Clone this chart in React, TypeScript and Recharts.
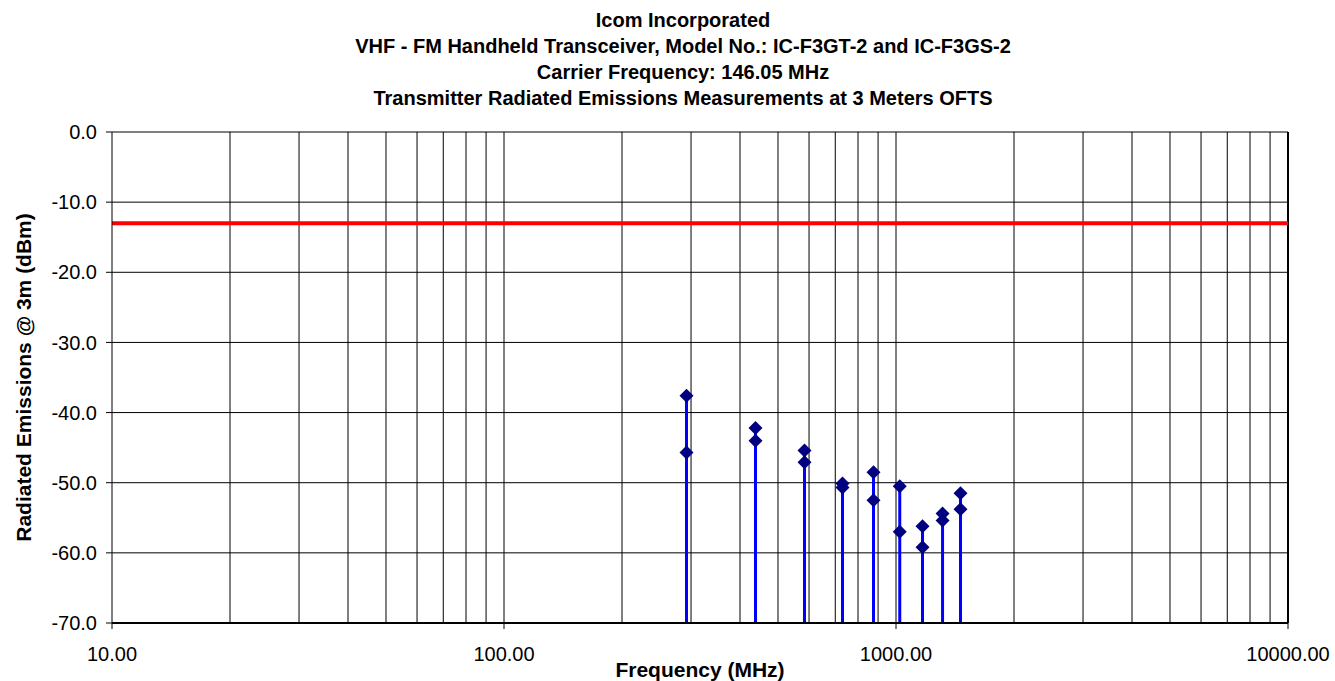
import React from 'react'
import { ScatterChart, Scatter, XAxis, YAxis, CartesianGrid, ReferenceLine } from 'recharts'

// harmonics of 146.05 MHz carrier
const harmonicFreqs = [292.1, 438.15, 584.2, 730.25, 876.3, 1022.35, 1168.4, 1314.45, 1460.5]
const emissionsA = [-37.6, -42.2, -45.4, -50.1, -48.5, -50.5, -56.2, -54.4, -51.5]
const emissionsB = [-45.7, -44.0, -47.1, -50.7, -52.5, -57.0, -59.2, -55.4, -53.8]

const limitDbm = -13
const xTicks = [10, 100, 1000, 10000]
const yTicks = [-70, -60, -50, -40, -30, -20, -10, 0]
const minorGrid = [
  20, 30, 40, 50, 60, 70, 80, 90, 100,
  200, 300, 400, 500, 600, 700, 800, 900, 1000,
  2000, 3000, 4000, 5000, 6000, 7000, 8000, 9000,
]

const titleLines = [
  'Icom Incorporated',
  'VHF - FM Handheld Transceiver, Model No.: IC-F3GT-2 and IC-F3GS-2',
  'Carrier Frequency: 146.05 MHz',
  'Transmitter Radiated Emissions Measurements at 3 Meters OFTS',
]

const points = harmonicFreqs.flatMap((f, i) => [
  { freq: f, dbm: emissionsA[i] },
  { freq: f, dbm: emissionsB[i] },
])

const FONT = '"Liberation Sans", Arial, sans-serif'

const Diamond = (props: any) => {
  const { cx, cy } = props
  if (cx == null || cy == null) return null
  const r = 7
  return (
    <polygon
      points={`${cx},${cy - r} ${cx + r},${cy} ${cx},${cy + r} ${cx - r},${cy}`}
      fill="#000080"
    />
  )
}

export default function App() {
  return (
    <div style={{ position: 'absolute', left: 0, top: 0, width: 1335, height: 681, fontFamily: FONT, background: '#fff' }}>
      <div
        style={{
          position: 'absolute', left: 0, top: 7, width: 1366, textAlign: 'center',
          fontWeight: 'bold', fontSize: 20, lineHeight: '26px', color: '#000',
        }}
      >
        {titleLines.map(t => <div key={t}>{t}</div>)}
      </div>
      <ScatterChart width={1335} height={681} margin={{ top: 132, right: 47, bottom: 0, left: 0 }}>
        <CartesianGrid stroke="#000" vertical={false} />
        {minorGrid.map(v => (
          <ReferenceLine key={v} x={v} stroke="#000" strokeWidth={1} />
        ))}
        <ReferenceLine x={10000} stroke="#000" strokeWidth={2} />
        <XAxis
          type="number"
          dataKey="freq"
          scale="log"
          domain={[10, 10000]}
          ticks={xTicks}
          allowDataOverflow
          tickFormatter={(v: number) => v.toFixed(2)}
          tick={{ fill: '#000', fontSize: 20, fontFamily: FONT }}
          tickSize={6}
          tickMargin={18}
          tickLine={{ stroke: '#000' }}
          axisLine={{ stroke: '#000', strokeWidth: 2 }}
          height={58}
          label={{ value: 'Frequency (MHz)', position: 'insideBottom', offset: 4, fill: '#000', fontSize: 21, fontWeight: 'bold', fontFamily: FONT }}
        />
        <YAxis
          type="number"
          dataKey="dbm"
          domain={[-70, 0]}
          ticks={yTicks}
          allowDataOverflow
          tickFormatter={(v: number) => v.toFixed(1)}
          tick={{ fill: '#000', fontSize: 20, fontFamily: FONT }}
          tickSize={6}
          tickMargin={9}
          tickLine={{ stroke: '#000' }}
          axisLine={{ stroke: '#000' }}
          width={112}
          label={{ value: 'Radiated Emissions @ 3m (dBm)', angle: -90, position: 'insideLeft', offset: 24, fill: '#000', fontSize: 21, fontWeight: 'bold', fontFamily: FONT, style: { textAnchor: 'middle' } }}
        />
        <ReferenceLine y={limitDbm} stroke="#ff0000" strokeWidth={4} />
        {harmonicFreqs.map((f, i) => (
          <ReferenceLine
            key={'s' + f}
            segment={[{ x: f, y: -70 }, { x: f, y: Math.max(emissionsA[i], emissionsB[i]) }]}
            stroke="#0000ff"
            strokeWidth={3}
          />
        ))}
        <Scatter data={points} shape={<Diamond />} isAnimationActive={false} />
      </ScatterChart>
    </div>
  )
}
